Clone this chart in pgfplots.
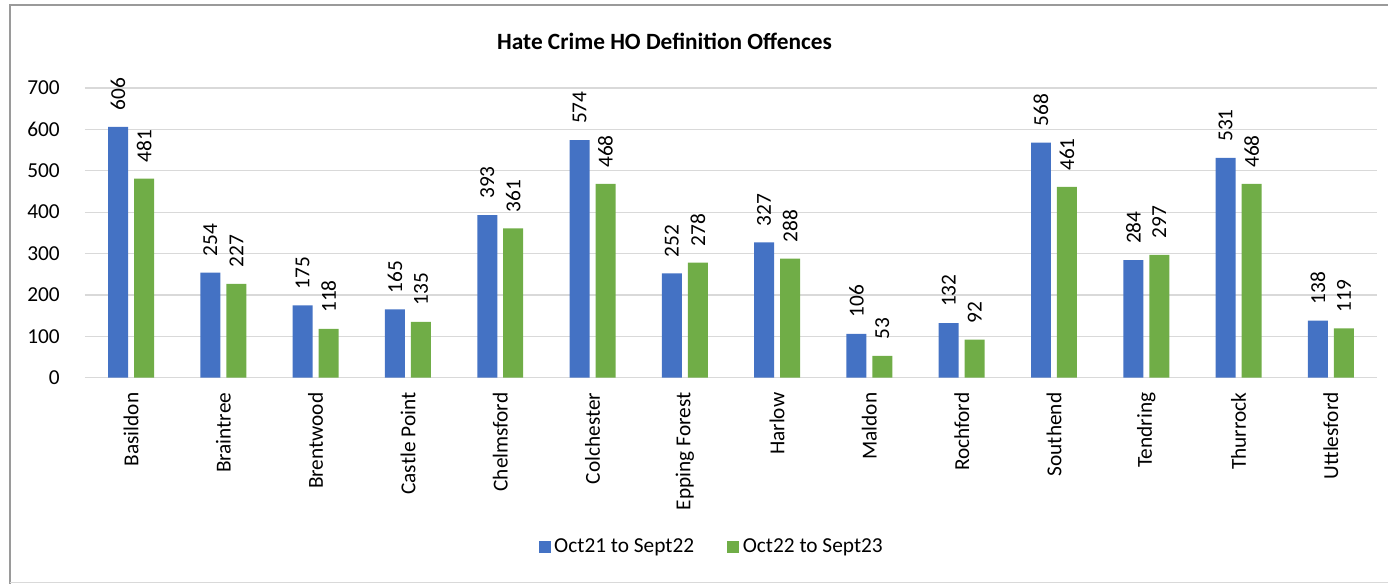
\documentclass[border=0pt]{standalone}
\usepackage{pgfplots}
\pgfplotsset{compat=1.18}
\usepackage{fontspec}
\setmainfont{Carlito}
\definecolor{barblue}{HTML}{4472C4}
\definecolor{bargreen}{HTML}{70AD47}
\definecolor{gridgrey}{HTML}{D9D9D9}
\definecolor{framegrey}{HTML}{9A9A9A}
\begin{document}
\begin{tikzpicture}
  % page 1389x584 px, 1px = 0.75pt
  \path (0,0) rectangle (1041.75pt,438pt);
  \draw[framegrey, line width=1.5pt] (7.5pt,0) -- (7.5pt,434.25pt) -- (1041.75pt,434.25pt);
  \draw[gridgrey, line width=0.75pt] (7.5pt,0.6pt) -- (1041.75pt,0.6pt);
  \node[font=\fontsize{17.5}{20}\selectfont\bfseries] at (498.75pt,407.25pt) {Hate Crime HO Definition Offences};
  \begin{axis}[
      at={(63.75pt,154.5pt)}, anchor=south west,
      scale only axis,
      width=969.75pt, height=217.5pt,
      ybar=4.5pt,
      bar width=15pt,
      xmin=-0.5, xmax=13.5,
      ymin=0, ymax=700,
      ytick={0,100,...,700},
      xtick=data,
      xticklabels={Basildon,Braintree,Brentwood,Castle Point,Chelmsford,Colchester,Epping Forest,Harlow,Maldon,Rochford,Southend,Tendring,Thurrock,Uttlesford},
      axis line style={draw=none},
      major tick length=0pt,
      ymajorgrids,
      grid style={gridgrey, line width=0.9pt},
      tick label style={font=\fontsize{16}{19}\selectfont, black},
      /pgf/number format/assume math mode=true,
      yticklabel style={anchor=east, inner xsep=18.75pt, inner ysep=0pt},
      xticklabel style={rotate=90, anchor=east, inner xsep=11pt, inner ysep=0pt},
      nodes near coords,
      every node near coord/.append style={rotate=90, anchor=west, inner xsep=12pt, inner ysep=0pt, font=\fontsize{16}{19}\selectfont, black},
      legend style={draw=none, at={(0.4857,-0.583)}, anchor=center, legend columns=2,
        font=\fontsize{16}{19}\selectfont,
        nodes={inner xsep=2.5pt},
        /tikz/every even column/.append style={column sep=22.5pt}},
      legend image code/.code={\fill[#1] (0pt,-4.5pt) rectangle (9pt,4.5pt);},
    ]
    \addplot[fill=barblue, draw=none] table {
        x y
        0 606
        1 254
        2 175
        3 165
        4 393
        5 574
        6 252
        7 327
        8 106
        9 132
        10 568
        11 284
        12 531
        13 138
      };
    \addplot[fill=bargreen, draw=none] table {
        x y
        0 481
        1 227
        2 118
        3 135
        4 361
        5 468
        6 278
        7 288
        8 53
        9 92
        10 461
        11 297
        12 468
        13 119
      };
    \legend{Oct21 to Sept22, Oct22 to Sept23}
  \end{axis}
\end{tikzpicture}
\end{document}
